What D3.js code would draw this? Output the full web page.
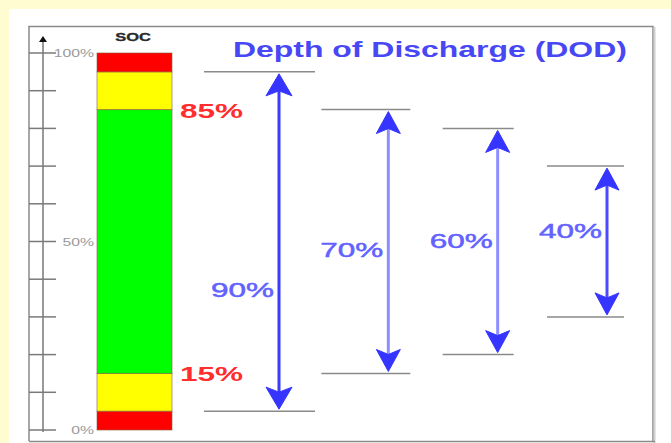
<!DOCTYPE html>
<html><head><meta charset="utf-8">
<script src="https://cdn.jsdelivr.net/npm/d3@7"></script>
<style>html,body{margin:0;padding:0;background:#fffcd2;overflow:hidden}</style>
</head><body>
<script>
// ---- data ----
const bandStart = [0, 5, 15, 85, 95];
const bandEnd   = [5, 15, 85, 95, 100];
const bandColors = ["#ff0000", "#ffff00", "#00ff00", "#ffff00", "#ff0000"];
const tickValues = [0, 10, 20, 30, 40, 50, 60, 70, 80, 90, 100];
const tickLabelValues = [0, 50, 100];
const thresholdValues = [85, 15];
const dodLabels = ["90%", "70%", "60%", "40%"];
const dodTop = [95, 85, 80, 70];
const dodBottom = [5, 15, 20, 30];
const dodLabelLevel = [37.5, 48, 50.5, 53];
const title = "Depth of Discharge (DOD)";
const axisTitle = "SOC";

const W = 671, H = 443;
const svg = d3.select("body").append("svg").attr("width", W).attr("height", H);
svg.append("rect").attr("width", W).attr("height", H).attr("fill", "#fffcd2");
svg.append("rect").attr("x", 9).attr("y", 9).attr("width", W - 9).attr("height", H - 9).attr("fill", "#fff");
// panel border
svg.append("path").attr("d", "M29,441 L29,26.5 L653,26.5 L653,441").attr("fill", "none").attr("stroke", "#8a8a8a").attr("stroke-width", 1.5);
svg.append("line").attr("x1", 654.5).attr("x2", 654.5).attr("y1", 27).attr("y2", 443).attr("stroke", "#cfcfcf").attr("stroke-width", 2);
svg.append("line").attr("x1", 29).attr("x2", 655).attr("y1", 441.5).attr("y2", 441.5).attr("stroke", "#8a8a8a").attr("stroke-width", 1.5);

const y = d3.scaleLinear().domain([0, 100]).range([430, 53]);
const SX = 1.5; // horizontal stretch of the original picture

function stext(g, x, yy, str, opts) {
  const t = g.append("text")
    .attr("transform", `translate(${x},${yy}) scale(${SX},1)`)
    .attr("font-family", "Liberation Sans, Arial, sans-serif")
    .attr("font-size", opts.size)
    .attr("font-weight", opts.weight || "normal")
    .attr("fill", opts.fill)
    .attr("text-anchor", opts.anchor || "start")
    .text(str);
  if (opts.stroke) t.attr("stroke", opts.fill).attr("stroke-width", opts.stroke);
  return t;
}

// axis
const axisX = 43;
svg.append("line").attr("x1", axisX).attr("x2", axisX).attr("y1", 40).attr("y2", y(0) + 2)
  .attr("stroke", "#999").attr("stroke-width", 2);
svg.append("path").attr("d", `M${axisX},36 L${axisX + 4},42 L${axisX - 4},42 Z`).attr("fill", "#111");
svg.selectAll("line.tick").data(tickValues).enter().append("line")
  .attr("class", "tick")
  .attr("x1", 29).attr("x2", 56)
  .attr("y1", d => y(d)).attr("y2", d => y(d))
  .attr("stroke", "#7a7a7a").attr("stroke-width", 1.5);
tickLabelValues.forEach(v => {
  stext(svg, 94, y(v) + 4, v + "%", {size: 10.5, fill: "#9a9a9a", anchor: "end"});
});
stext(svg, 133, 40.5, axisTitle, {size: 11, weight: "bold", fill: "#2a2a2a", anchor: "middle", stroke: 0.3});

// SOC bar
const barX0 = 97, barX1 = 172;
svg.selectAll("rect.band").data(bandStart).enter().append("rect")
  .attr("class", "band")
  .attr("x", barX0).attr("width", barX1 - barX0)
  .attr("y", (d, i) => y(bandEnd[i]))
  .attr("height", (d, i) => y(d) - y(bandEnd[i]))
  .attr("fill", (d, i) => bandColors[i])
  .attr("stroke", "#8a5a3a").attr("stroke-width", 1).attr("stroke-opacity", 0.6);

thresholdValues.forEach(v => {
  stext(svg, 180, y(v) + 8, v + "%", {size: 21, weight: "bold", fill: "#ff2d2d"});
});

// title
stext(svg, 233, 57, title, {size: 21.3, weight: "bold", fill: "#4747f5"});

// DOD arrows
const xArrow = d3.scalePoint().domain(dodLabels).range([279, 607]);
const lineLeft = [75, 67, 55, 60];
const lineRight = [36, 22, 16, 17];
const lineColors = ["#3b3bff", "#8e8eff", "#8e8eff", "#4a4aff"];
const headColor = "#3535ff";

function head(x, tipY, dir, w, h) {
  // dir = -1 up-pointing, +1 down-pointing
  const back = tipY - dir * h, notch = tipY - dir * (h - 5);
  return `M${x},${tipY} L${x + w / 2},${back} L${x},${notch} L${x - w / 2},${back} Z`;
}

dodLabels.forEach((lab, i) => {
  const x = xArrow(lab);
  const yt = y(dodTop[i]), yb = y(dodBottom[i]);
  svg.append("line").attr("x1", x - lineLeft[i]).attr("x2", x + lineRight[i]).attr("y1", yt).attr("y2", yt)
    .attr("stroke", "#8a8a8a").attr("stroke-width", 1.5);
  svg.append("line").attr("x1", x - lineLeft[i]).attr("x2", x + lineRight[i]).attr("y1", yb).attr("y2", yb)
    .attr("stroke", "#8a8a8a").attr("stroke-width", 1.5);
  const gap = 2;
  svg.append("line").attr("x1", x).attr("x2", x).attr("y1", yt + gap + 10).attr("y2", yb - gap - 10)
    .attr("stroke", lineColors[i]).attr("stroke-width", 3);
  const w = i === 0 ? 26 : 24, h = 22;
  svg.append("path").attr("d", head(x, yt + gap, -1, w, h)).attr("fill", headColor)
    .attr("stroke", headColor).attr("stroke-width", 1).attr("stroke-linejoin", "round");
  svg.append("path").attr("d", head(x, yb - gap, 1, w, h)).attr("fill", headColor)
    .attr("stroke", headColor).attr("stroke-width", 1).attr("stroke-linejoin", "round");
  stext(svg, x - 5, y(dodLabelLevel[i]) + 8, lab, {size: 21, fill: "#6262ff", anchor: "end", stroke: 0.5});
});
</script>
</body></html>
